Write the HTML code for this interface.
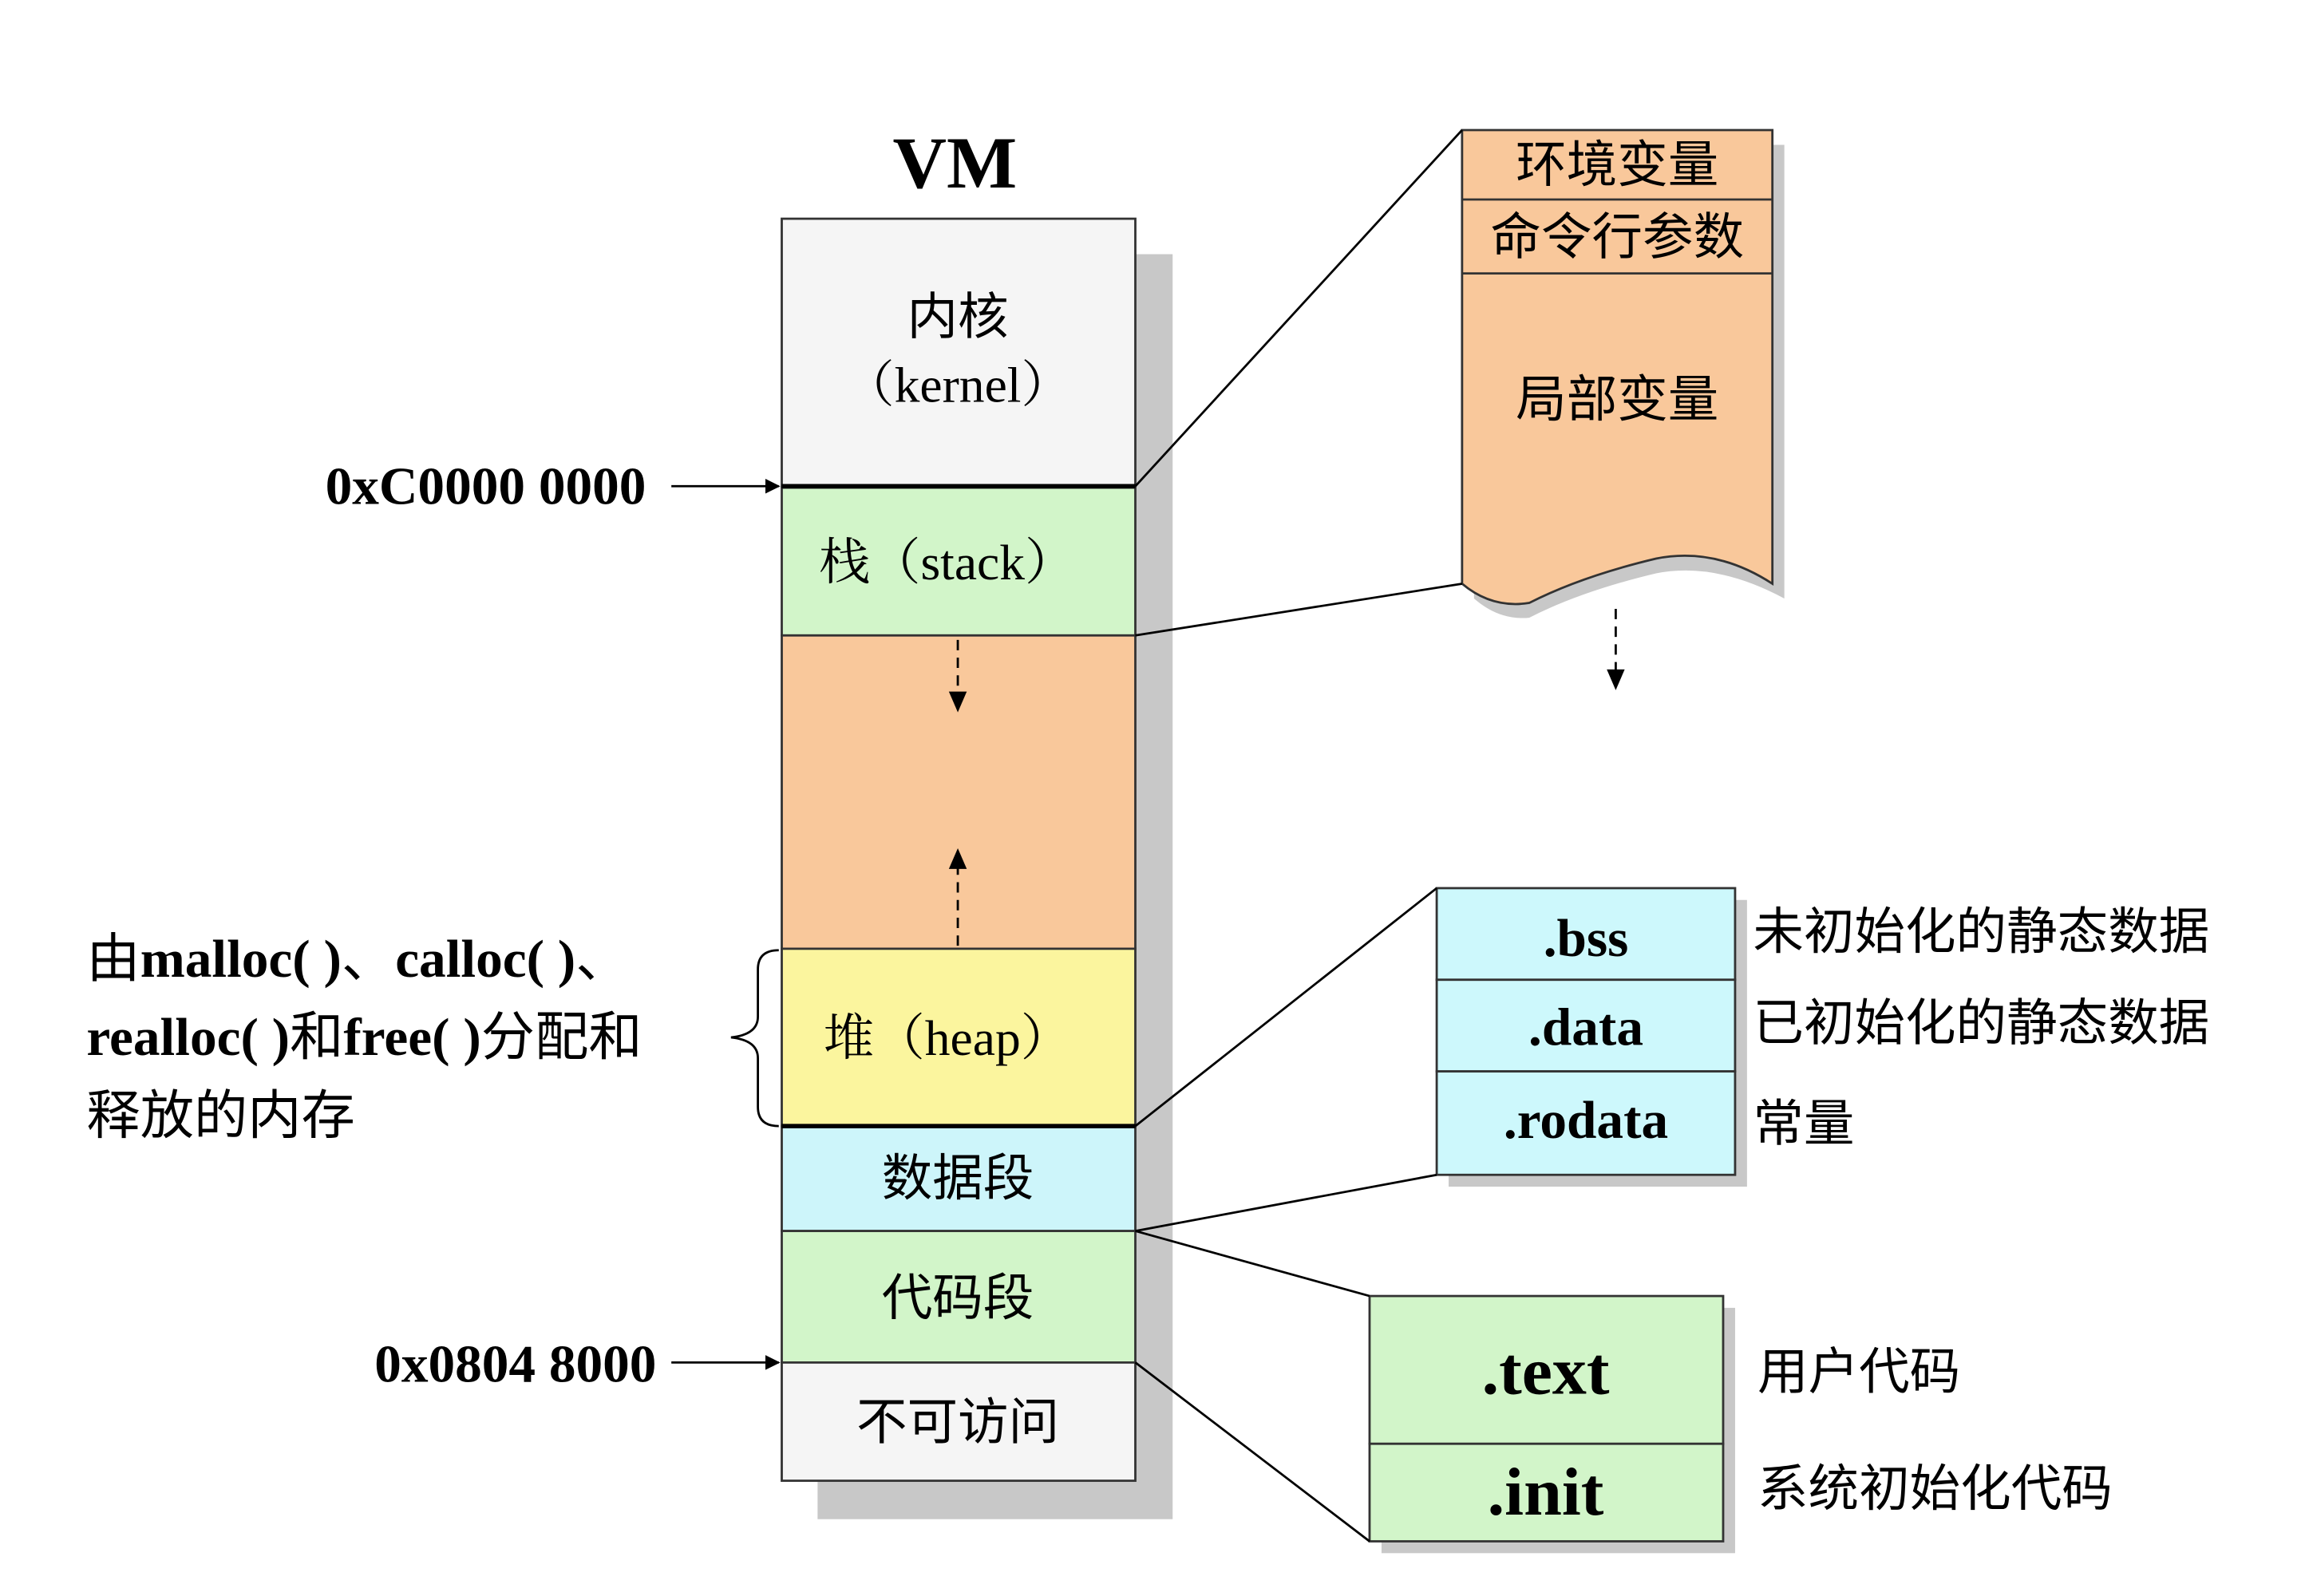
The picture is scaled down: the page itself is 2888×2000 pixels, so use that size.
<!DOCTYPE html>
<html><head><meta charset="utf-8"><style>
html,body{margin:0;padding:0;background:#fff;}
svg{display:block;}
.s{font-family:"Liberation Serif","Noto Serif CJK SC",serif;}
.c{font-family:"Liberation Serif","Noto Sans CJK SC",serif;}
</style></head><body>
<svg width="2888" height="2000" viewBox="0 0 1545 1080" preserveAspectRatio="none" xmlns="http://www.w3.org/2000/svg">
<defs>
<marker id="a" markerWidth="10" markerHeight="10" refX="9" refY="5" orient="auto" markerUnits="userSpaceOnUse"><path d="M0,0 L10,5 L0,10 z" fill="#000"/></marker>
<marker id="b" markerWidth="12" markerHeight="12" refX="6" refY="11" orient="auto-start-reverse" markerUnits="userSpaceOnUse"></marker>
</defs>
<rect width="1545" height="1080" fill="#fff"/>
<!-- VM -->
<text x="640" y="127" text-anchor="middle" class="s" font-size="50" font-weight="bold">VM</text>
<!-- shadow -->
<rect x="548" y="172" width="238" height="856" fill="#c8c8c8"/>
<!-- segments -->
<g stroke="#333" stroke-width="1.5">
<rect x="524" y="148" width="237" height="181" fill="#f5f5f5"/>
<rect x="524" y="330" width="237" height="100" fill="#d2f5c9"/>
<rect x="524" y="430" width="237" height="212" fill="#f9c89b"/>
<rect x="524" y="642" width="237" height="120" fill="#fbf59e"/>
<rect x="524" y="762" width="237" height="71" fill="#cdf5fa"/>
<rect x="524" y="833" width="237" height="89" fill="#d2f5c9"/>
<rect x="524" y="922" width="237" height="80" fill="#f5f5f5"/>
</g>
<line x1="524" y1="329" x2="761" y2="329" stroke="#000" stroke-width="3"/>
<line x1="524" y1="762" x2="761" y2="762" stroke="#000" stroke-width="3"/>
<!-- segment labels -->
<g class="c" font-size="34" text-anchor="middle">
<text x="642" y="226">内核</text>
<text x="642" y="272" class="s">（kernel）</text>
<text x="635" y="392" class="s">栈（stack）</text>
<text x="635" y="714" class="s">堆（heap）</text>
<text x="642" y="809">数据段</text>
<text x="642" y="890">代码段</text>
<text x="642" y="974">不可访问</text>
</g>
<!-- dashed arrows -->
<line x1="642" y1="433" x2="642" y2="472" stroke="#000" stroke-width="1.5" stroke-dasharray="7,5"/>
<path d="M636,468 L642,482 L648,468 z"/>
<line x1="642" y1="640" x2="642" y2="586" stroke="#000" stroke-width="1.5" stroke-dasharray="7,5"/>
<path d="M636,588 L642,574 L648,588 z"/>
<!-- address labels -->
<text x="433" y="341" text-anchor="end" class="s" font-size="36" font-weight="bold">0xC0000 0000</text>
<line x1="450" y1="329" x2="522" y2="329" stroke="#000" stroke-width="1.5" marker-end="url(#a)"/>
<text x="440" y="935" text-anchor="end" class="s" font-size="36" font-weight="bold">0x0804 8000</text>
<line x1="450" y1="922" x2="522" y2="922" stroke="#000" stroke-width="1.5" marker-end="url(#a)"/>
<!-- left text -->
<g class="c" font-size="36">
<text x="58" y="661"><tspan>由</tspan><tspan font-weight="bold" class="s">malloc( )</tspan><tspan>、</tspan><tspan font-weight="bold" class="s">calloc( )</tspan><tspan>、</tspan></text>
<text x="58" y="714"><tspan font-weight="bold" class="s">realloc( )</tspan><tspan>和</tspan><tspan font-weight="bold" class="s">free( )</tspan><tspan>分配和</tspan></text>
<text x="58" y="767">释放的内存</text>
</g>
<!-- brace -->
<path d="M522,643 Q508,643 508,656 L508,688 Q508,700 490,702 Q508,704 508,716 L508,749 Q508,762 522,762" fill="none" stroke="#000" stroke-width="1.5"/>
<!-- top right box -->
<path d="M988,98 L1196,98 L1196,405 Q1150,380 1110,388 Q1060,400 1025,418 Q1005,420 988,405 z" fill="#c8c8c8"/>
<path d="M980,88 L1188,88 L1188,395 Q1150,370 1110,378 Q1060,390 1025,408 Q1000,412 980,395 z" fill="#f9c89b" stroke="#333" stroke-width="1.5"/>
<line x1="980" y1="135" x2="1188" y2="135" stroke="#333" stroke-width="1.5"/>
<line x1="980" y1="185" x2="1188" y2="185" stroke="#333" stroke-width="1.5"/>
<g class="c" font-size="34" text-anchor="middle">
<text x="1084" y="123">环境变量</text>
<text x="1084" y="172">命令行参数</text>
<text x="1084" y="282">局部变量</text>
</g>
<line x1="761" y1="329" x2="980" y2="88" stroke="#000" stroke-width="1.5"/>
<line x1="761" y1="430" x2="980" y2="395" stroke="#000" stroke-width="1.5"/>
<line x1="1083" y1="412" x2="1083" y2="455" stroke="#000" stroke-width="1.5" stroke-dasharray="7,5"/>
<path d="M1077,453 L1083,467 L1089,453 z"/>
<!-- bss box -->
<rect x="971" y="609" width="200" height="194" fill="#c8c8c8"/>
<g stroke="#333" stroke-width="1.5" fill="#cdf8fc">
<rect x="963" y="601" width="200" height="62"/>
<rect x="963" y="663" width="200" height="62"/>
<rect x="963" y="725" width="200" height="70"/>
</g>
<g class="s" font-size="36" font-weight="bold" text-anchor="middle">
<text x="1063" y="647">.bss</text>
<text x="1063" y="707">.data</text>
<text x="1063" y="770">.rodata</text>
</g>
<line x1="761" y1="762" x2="963" y2="601" stroke="#000" stroke-width="1.5"/>
<line x1="761" y1="833" x2="963" y2="795" stroke="#000" stroke-width="1.5"/>
<g class="c" font-size="34">
<text x="1175" y="642">未初始化的静态数据</text>
<text x="1175" y="704">已初始化的静态数据</text>
<text x="1175" y="772">常量</text>
</g>
<!-- text box -->
<rect x="926" y="885" width="237" height="166" fill="#c8c8c8"/>
<g stroke="#333" stroke-width="1.5" fill="#d2f5c9">
<rect x="918" y="877" width="237" height="100"/>
<rect x="918" y="977" width="237" height="66"/>
</g>
<g class="s" font-size="46" font-weight="bold" text-anchor="middle">
<text x="1036" y="943">.text</text>
<text x="1036" y="1025">.init</text>
</g>
<line x1="761" y1="833" x2="918" y2="877" stroke="#000" stroke-width="1.5"/>
<line x1="761" y1="922" x2="918" y2="1043" stroke="#000" stroke-width="1.5"/>
<g class="c" font-size="34">
<text x="1178" y="940">用户代码</text>
<text x="1178" y="1019">系统初始化代码</text>
</g>
</svg>
</body></html>
